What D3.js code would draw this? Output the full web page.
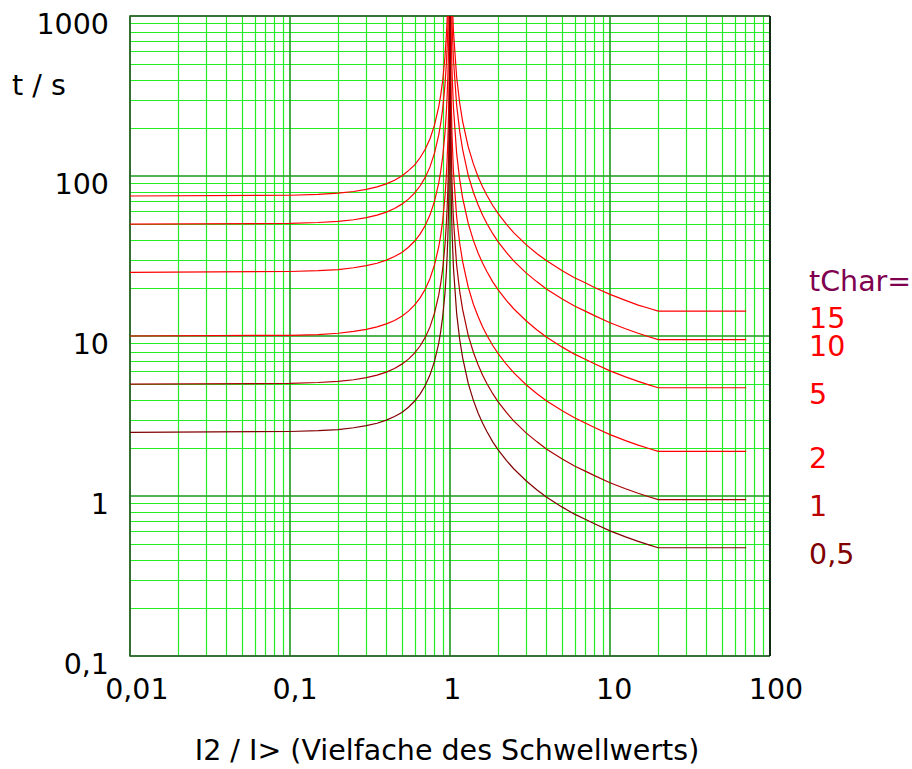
<!DOCTYPE html>
<html>
<head>
<meta charset="utf-8">
<script src="https://cdn.jsdelivr.net/npm/d3@7"></script>
<style>
  body { margin: 0; background: #fff; }
  svg text { font-family: "DejaVu Sans", sans-serif; }
</style>
</head>
<body>
<div id="chart"></div>
<script>
// tick labels
var xTicks = [0.01, 0.1, 1, 10, 100];
var yTicks = [0.1, 1, 10, 100, 1000];

// I2 / I> sample points (shared by all curves)
var currents = [0.01, 0.1, 0.15, 0.2, 0.25, 0.3, 0.35, 0.4, 0.45, 0.5, 0.55, 0.6, 0.65, 0.7, 0.75, 0.8, 0.85, 0.875, 0.9, 0.93, 0.95, 0.96, 0.97, 0.98, 0.99, 0.995, 0.998, 0.999,
                1.001, 1.002, 1.005, 1.01, 1.02, 1.03, 1.05, 1.1, 1.15, 1.2, 1.3, 1.4, 1.5, 1.6, 1.7, 1.85, 2, 2.25, 2.5, 3, 3.5, 4, 5, 6, 7, 8, 10, 12.5, 15, 17.5, 20, 71];

// trip times t / s (left branch, then right branch)
var t15 = [75, 75.8, 76.7, 78.2, 80.0, 82.4, 85.5, 89.3, 94.1, 100, 108, 117, 130, 147, 171, 208, 270, 320, 395, 555, 770, 957, 1270, 1890, 3770, 7520, 18750, 37500,
           39600, 19800, 7950, 3990, 2010, 1340, 813, 417, 285, 219, 152, 119, 98.7, 85.4, 75.8, 65.4, 58.2, 50.0, 44.3, 37.1, 32.7, 29.6, 25.7, 23.1, 21.5, 20.1, 18.2, 16.7, 15.6, 14.9, 14.3, 14.3];
var t10 = [50, 50.5, 51.2, 52.1, 53.3, 54.9, 57.0, 59.5, 62.7, 66.7, 71.7, 78.1, 86.6, 98.0, 114, 139, 180, 213, 263, 370, 513, 638, 846, 1260, 2510, 5010, 12500, 25000,
           26400, 13200, 5300, 2660, 1340, 894, 542, 278, 190, 146, 101, 79.2, 65.8, 56.9, 50.5, 43.6, 38.8, 33.3, 29.5, 24.7, 21.8, 19.7, 17.1, 15.4, 14.3, 13.4, 12.1, 11.1, 10.4, 9.9, 9.5, 9.5];
var t5  = [25, 25.3, 25.6, 26.0, 26.7, 27.5, 28.5, 29.8, 31.4, 33.3, 35.9, 39.1, 43.3, 49.0, 57.2, 69.4, 90.1, 107, 132, 185, 256, 319, 423, 631, 1260, 2510, 6250, 12500,
           13200, 6610, 2650, 1330, 670, 447, 271, 139, 95, 72.8, 50.5, 39.6, 32.9, 28.5, 25.3, 21.8, 19.4, 16.7, 14.8, 12.4, 10.9, 9.85, 8.55, 7.7, 7.15, 6.7, 6.05, 5.55, 5.2, 4.95, 4.75, 4.75];
var t2  = [10, 10.1, 10.2, 10.4, 10.7, 11.0, 11.4, 11.9, 12.5, 13.3, 14.3, 15.6, 17.3, 19.6, 22.9, 27.8, 36.0, 42.6, 52.6, 74.0, 103, 128, 169, 253, 503, 1003, 2500, 5000,
           5290, 2640, 1060, 532, 268, 179, 108, 55.6, 38.0, 29.1, 20.2, 15.8, 13.2, 11.4, 10.1, 8.72, 7.76, 6.66, 5.9, 4.94, 4.36, 3.94, 3.42, 3.08, 2.86, 2.68, 2.42, 2.22, 2.08, 1.98, 1.9, 1.9];
var t1  = [5.0, 5.05, 5.12, 5.21, 5.33, 5.49, 5.70, 5.95, 6.27, 6.67, 7.17, 7.81, 8.66, 9.80, 11.4, 13.9, 18.0, 21.3, 26.3, 37.0, 51.3, 63.8, 84.6, 126, 251, 501, 1250, 2500,
           2640, 1320, 530, 266, 134, 89.4, 54.2, 27.8, 19.0, 14.6, 10.1, 7.92, 6.58, 5.69, 5.05, 4.36, 3.88, 3.33, 2.95, 2.47, 2.18, 1.97, 1.71, 1.54, 1.43, 1.34, 1.21, 1.11, 1.04, 0.99, 0.95, 0.95];
var t05 = [2.5, 2.53, 2.56, 2.6, 2.67, 2.75, 2.85, 2.98, 3.14, 3.33, 3.59, 3.91, 4.33, 4.9, 5.72, 6.94, 9.0, 10.7, 13.2, 18.5, 25.6, 31.9, 42.3, 63.1, 126, 251, 625, 1250,
           1320, 661, 265, 133, 67, 44.7, 27.1, 13.9, 9.5, 7.3, 5.05, 3.96, 3.29, 2.85, 2.53, 2.18, 1.94, 1.67, 1.48, 1.24, 1.09, 0.985, 0.855, 0.77, 0.715, 0.67, 0.605, 0.555, 0.52, 0.495, 0.475, 0.475];

var curveLabels = ["15", "10", "5", "2", "1", "0,5"];
var curveTimes  = [t15, t10, t5, t2, t1, t05];
var curveColors = ["#ff0000", "#ff0000", "#ff0000", "#ff0000", "#a80000", "#800000"];
var labelColors = ["#ff0000", "#ff0000", "#ff0000", "#ff0000", "#bb0000", "#800000"];

var width = 912, height = 769;
var pLeft = 130, pTop = 16, pRight = 770, pBottom = 656;
var fs = "28.5px";

var svg = d3.select("#chart").append("svg")
  .attr("width", width)
  .attr("height", height);

var x = d3.scaleLog().domain([0.01, 100]).range([pLeft, pRight]);
var y = d3.scaleLog().domain([0.1, 1000]).range([pBottom, pTop]);

function isMajor(v) {
  var l = Math.log10(v);
  return Math.abs(l - Math.round(l)) < 1e-9;
}

// grid
var grid = svg.append("g");
var xg = x.ticks();
var yg = y.ticks();
grid.selectAll(".vx").data(xg.filter(function(d){ return !isMajor(d); })).enter()
  .append("line")
  .attr("x1", function(d){ return Math.round(x(d)) + 0.5; })
  .attr("x2", function(d){ return Math.round(x(d)) + 0.5; })
  .attr("y1", pTop).attr("y2", pBottom)
  .attr("stroke", "#22ee22").attr("stroke-width", 1.2);
grid.selectAll(".hy").data(yg.filter(function(d){ return !isMajor(d); })).enter()
  .append("line")
  .attr("y1", function(d){ return Math.round(y(d)) + 0.5; })
  .attr("y2", function(d){ return Math.round(y(d)) + 0.5; })
  .attr("x1", pLeft).attr("x2", pRight)
  .attr("stroke", "#22ee22").attr("stroke-width", 1.2);
grid.selectAll(".mx").data(xg.filter(isMajor)).enter()
  .append("line")
  .attr("x1", function(d){ return x(d); })
  .attr("x2", function(d){ return x(d); })
  .attr("y1", pTop).attr("y2", pBottom)
  .attr("stroke", "#1a9a1a").attr("stroke-width", 1.6);
grid.selectAll(".my").data(yg.filter(isMajor)).enter()
  .append("line")
  .attr("y1", function(d){ return y(d); })
  .attr("y2", function(d){ return y(d); })
  .attr("x1", pLeft).attr("x2", pRight)
  .attr("stroke", "#1a9a1a").attr("stroke-width", 1.6);

// frame
svg.append("path")
  .attr("d", "M" + pRight + "," + pTop + "H" + pLeft + "V" + pBottom + "H" + pRight)
  .attr("fill", "none").attr("stroke", "#2f5f2f").attr("stroke-width", 1.6);
svg.append("line")
  .attr("x1", pRight).attr("x2", pRight).attr("y1", pTop).attr("y2", pBottom)
  .attr("stroke", "#000").attr("stroke-width", 1.5);

// curves
svg.append("clipPath").attr("id", "plotclip")
  .append("rect").attr("x", pLeft).attr("y", pTop)
  .attr("width", pRight - pLeft).attr("height", pBottom - pTop);

var line = d3.line()
  .x(function(d){ return x(d[0]); })
  .y(function(d){ return y(d[1]); });

svg.append("g").attr("clip-path", "url(#plotclip)")
  .selectAll("path").data(curveTimes).enter()
  .append("path")
  .attr("d", function(ts){ return line(currents.map(function(c, i){ return [c, ts[i]]; })); })
  .attr("fill", "none")
  .attr("stroke", function(d, i){ return curveColors[i]; })
  .attr("stroke-width", 1.2);

// axes
var fmt = function(d){ return String(d).replace(".", ","); };

var yAxis = svg.append("g")
  .attr("transform", "translate(" + pLeft + ",0)")
  .call(d3.axisLeft(y).tickValues(yTicks).tickFormat(fmt).tickSize(0).tickPadding(21));
yAxis.select(".domain").remove();
yAxis.selectAll("text")
  .attr("dy", 17)
  .attr("fill", "#000")
  .style("font-size", fs)
  .style("font-family", "'DejaVu Sans', sans-serif");

var xAxis = svg.append("g")
  .attr("transform", "translate(0," + pBottom + ")")
  .call(d3.axisBottom(x).tickValues(xTicks).tickFormat(fmt).tickSize(0).tickPadding(0));
xAxis.select(".domain").remove();
xAxis.selectAll("text")
  .attr("dy", 43)
  .attr("fill", "#000")
  .style("font-size", fs)
  .style("font-family", "'DejaVu Sans', sans-serif")
  .attr("dx", function(){ return this.getComputedTextLength() * 0.1; });

// axis titles
svg.append("text")
  .attr("x", 12).attr("y", 95)
  .style("font-size", fs)
  .text("t / s");

svg.append("text")
  .attr("x", 447).attr("y", 760)
  .attr("text-anchor", "middle")
  .style("font-size", fs)
  .text("I2 / I> (Vielfache des Schwellwerts)");

// curve labels
svg.append("text")
  .attr("x", 809).attr("y", 291)
  .attr("fill", "#800050")
  .style("font-size", fs)
  .text("tChar=");

svg.selectAll(".clabel").data(curveLabels).enter()
  .append("text")
  .attr("x", 809)
  .attr("y", function(d, i){ var ts = curveTimes[i]; return y(ts[ts.length - 1]) + 16.5; })
  .attr("fill", function(d, i){ return labelColors[i]; })
  .style("font-size", fs)
  .text(function(d){ return d; });
</script>
</body>
</html>
